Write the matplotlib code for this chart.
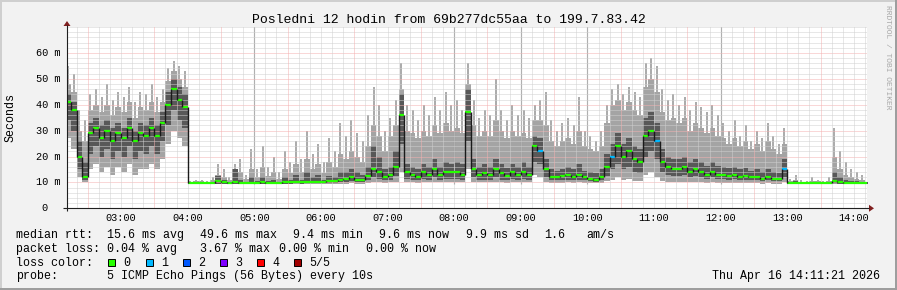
import numpy as np
import matplotlib
matplotlib.use("Agg")
import matplotlib.pyplot as plt
from matplotlib.patches import Rectangle, Polygon

W, H = 897, 290
MONO = "Liberation Mono"


def hh(s):
    h, m = s.split(":")
    return int(h) + int(m) / 60.0


# ── data: 5-minute bins starting 02:10, one row per clock hour (ms) ──────────
# highest single ping in the bin (thin spike)
peak = [
    55, 52, 38, 34, 44, 46, 43, 48, 42, 45,                       # 02
    43, 47, 41, 45, 44, 48, 43, 46, 54, 57, 55, 53,               # 03
    10.5, 11, 11, 10.5, 12, 17, 15, 12, 17, 19, 13, 23,           # 04
    15, 24, 16, 20, 14, 22, 18, 26, 19, 30, 21, 25,               # 05
    18, 27, 22, 33, 28, 34, 29, 26, 36, 47, 40, 30,               # 06
    35, 42, 56, 40, 38, 34, 40, 36, 43, 38, 45, 40,               # 07
    42, 38, 56, 42, 35, 38, 36, 50, 38, 34, 40, 36,               # 08
    38, 35, 40, 42, 45, 34, 30, 33, 35, 32, 43, 30,               # 09
    28, 26, 30, 40, 46, 48, 44, 47, 45, 43, 56, 58,               # 10
    55, 46, 42, 44, 40, 43, 38, 41, 39, 37, 40, 36,               # 11
    33, 30, 34, 28, 32, 26, 30, 27, 33, 28, 25, 31,               # 12
    11.5, 13, 11, 10.5, 12, 11, 10.5, 12, 31, 22, 18, 15,         # 13
    14, 13, 11,                                                   # 14
]
# typical top of the light smoke (max ping)
hi = [
    48, 45, 30, 26, 38, 40, 37, 40, 36, 39,
    37, 41, 35, 39, 38, 41, 37, 41, 49, 53, 50, 47,
    10.3, 10.5, 10.5, 10.3, 11, 13, 12, 11, 13, 14, 11.5, 15,
    12, 16, 12.5, 14, 11.5, 15, 13.5, 17, 14, 19, 15, 17,
    13.5, 18, 16, 21, 19, 22, 20, 18, 24, 32, 28, 22,
    28, 32, 46, 30, 29, 27, 30, 28, 32, 29, 33, 30,
    31, 29, 48, 32, 28, 30, 28, 34, 30, 27, 30, 28,
    29, 27, 34, 34, 32, 26, 24, 26, 27, 25, 30, 24,
    23, 22, 24, 33, 40, 42, 38, 41, 38, 36, 47, 50,
    45, 37, 34, 35, 33, 35, 30, 33, 31, 29, 31, 28,
    27, 25, 27, 24, 26, 23, 25, 22, 26, 23, 21, 25,
    10.5, 11, 10.3, 10.2, 10.7, 10.4, 10.2, 10.6, 20, 15, 13, 12,
    11.5, 11, 10.3,
]
# 4th of 5 pings (top of dark smoke)
hi2 = [
    44, 41, 26, 18, 33, 35, 32, 34, 31, 33,
    31, 35, 30, 33, 32, 35, 32, 37, 45, 50, 47, 44,
    9.9, 10, 10, 9.9, 10.3, 12.5, 11, 10.3, 15, 11, 10.2, 12,
    10.5, 12, 10.5, 11, 10.3, 12, 11, 13, 11, 14, 12, 13,
    11, 12.5, 12, 14, 14, 15, 14, 13, 16, 24, 20, 15,
    16, 22, 44, 17, 16, 15, 17, 16, 19, 16, 18, 17,
    18, 17, 46, 19, 16, 17, 16, 19, 17, 15.5, 17, 16,
    18, 16, 28, 27, 19, 15, 14.5, 15, 16, 15, 17, 14.5,
    14, 13.5, 15, 21, 25, 29, 25, 27, 24, 23, 35, 37,
    33, 23, 20, 19, 19, 20, 18, 19, 18, 16.5, 18, 16.5,
    16, 15.5, 16, 15, 15.5, 14.5, 15, 14, 15, 14, 13.5, 19,
    10.2, 10.5, 10, 9.9, 10.3, 10, 9.9, 10.3, 14, 12, 11, 10.5,
    10.5, 10.3, 10,
]
med = [
    41, 38, 20, 12, 29, 31, 27, 30, 26, 29,
    27, 31, 26, 29, 28, 31, 28, 33, 40, 46, 42, 39,
    9.6, 9.6, 9.6, 9.6, 9.7, 10.5, 10, 9.7, 10.2, 9.8, 9.6, 9.8,
    9.8, 10, 9.8, 9.9, 9.7, 10, 10, 10.2, 10, 10.3, 10.2, 10.3,
    10.2, 10.5, 10.4, 11, 11.5, 12, 11, 10.8, 12.5, 15, 14, 12,
    13, 16, 36, 14, 13, 12, 14, 13, 15, 13, 14, 14,
    14, 13, 37, 15, 13, 13.5, 13, 15, 13.5, 12.5, 14, 13,
    14, 13, 24, 22, 15, 12, 12, 12.5, 13, 12, 13, 12,
    11.5, 11, 12, 16, 20, 24, 20, 22, 19, 18, 28, 30,
    26, 18, 16, 15, 15, 16, 14, 15, 14, 13, 14, 13,
    13, 12.5, 13, 12, 12.5, 12, 12, 11.5, 12, 11.5, 11.5, 15,
    9.7, 9.7, 9.6, 9.6, 9.6, 9.6, 9.6, 9.7, 10.5, 10, 9.8, 9.7,
    9.7, 9.6, 9.6,
]
# 2nd of 5 pings (bottom of dark smoke)
lo2 = [
    34, 30, 15, 11, 21, 24, 20, 23, 19, 22,
    20, 24, 19, 22, 21, 24, 21, 26, 32, 38, 34, 31,
    9.4, 9.4, 9.4, 9.4, 9.4, 9.5, 9.5, 9.4, 9.5, 9.4, 9.4, 9.4,
    9.4, 9.5, 9.4, 9.5, 9.4, 9.5, 9.5, 9.6, 9.5, 9.6, 9.6, 9.6,
    9.6, 9.8, 9.8, 10, 10.2, 10.5, 10, 10, 10.8, 12, 11.5, 10.8,
    11, 12.5, 25, 11.5, 11, 10.8, 11.5, 11, 12, 11, 11.5, 11.5,
    11.5, 11, 26, 12, 11, 11, 11, 12, 11, 10.8, 11.5, 11,
    11.5, 11, 18, 17, 12, 10.8, 10.8, 11, 11, 10.8, 11, 10.8,
    10.5, 10.3, 10.8, 12.5, 15, 17, 15, 16, 14, 13.5, 20, 22,
    19, 14, 13, 12.5, 12.5, 13, 12, 12.5, 12, 11.5, 12, 11.5,
    11.5, 11, 11.5, 11, 11, 10.8, 10.8, 10.5, 10.8, 10.5, 10.5, 12,
    9.4, 9.4, 9.4, 9.4, 9.4, 9.4, 9.4, 9.5, 9.6, 9.5, 9.5, 9.4,
    9.4, 9.4, 9.4,
]
# fastest ping (bottom of light smoke)
lo = [
    27, 23, 12, 10, 15, 17, 14, 16, 13, 16,
    14, 17, 13, 15, 15, 17, 15, 19, 25, 30, 27, 24,
    9.2, 9.2, 9.2, 9.2, 9.2, 9.2, 9.2, 9.2, 9.2, 9.2, 9.2, 9.2,
    9.2, 9.2, 9.2, 9.2, 9.2, 9.2, 9.2, 9.2, 9.2, 9.2, 9.2, 9.2,
    9.3, 9.3, 9.3, 9.4, 9.5, 9.6, 9.5, 9.5, 9.7, 10, 10, 9.8,
    10, 10.2, 14, 10, 10, 9.8, 10, 10, 10.2, 10, 10, 10,
    10, 10, 15, 10, 10, 10, 10, 10.2, 10, 9.8, 10, 10,
    10, 10, 13, 12, 10, 9.8, 9.8, 9.8, 10, 9.8, 10, 9.8,
    9.7, 9.6, 9.8, 10.5, 11, 12, 11, 11.5, 10.5, 10.5, 13, 14,
    12, 10.5, 10.2, 10, 10, 10.2, 10, 10, 10, 9.8, 10, 9.8,
    9.8, 9.8, 9.8, 9.7, 9.7, 9.6, 9.6, 9.5, 9.6, 9.5, 9.5, 10,
    9.2, 9.2, 9.2, 9.2, 9.2, 9.2, 9.2, 9.2, 9.2, 9.2, 9.2, 9.2,
    9.2, 9.2, 9.2,
]
first_bin = "02:10"
bin_minutes = 5

# bins where one of five pings was lost
loss1_bins = ["09:15", "10:20", "11:00", "12:55"]

# single-sample spikes off the top of the scale
spike_times = ["05:00", "08:00", "09:00", "10:00", "12:00"]
spike_top = [75, 75, 75, 75, 75]

x_labels = ["03:00", "04:00", "05:00", "06:00", "07:00", "08:00",
            "09:00", "10:00", "11:00", "12:00", "13:00", "14:00"]
y_values = [0, 10, 20, 30, 40, 50, 60]
y_labels = ["0", "10 m", "20 m", "30 m", "40 m", "50 m", "60 m"]

title = "Posledni 12 hodin from 69b277dc55aa to 199.7.83.42"
row_rtt = [("median rtt:", 16), ("15.6 ms avg", 107), ("49.6 ms max", 199.5),
           ("9.4 ms min", 293), ("9.6 ms now", 379), ("9.9 ms sd", 465.5),
           ("1.6", 544), ("am/s", 586.5)]
row_loss = [("packet loss:", 16), ("0.04 % avg", 107), ("3.67 % max", 199.5),
            ("0.00 % min", 279), ("0.00 % now", 365.5)]
loss_names = ["0", "1", "2", "3", "4", "5/5"]
loss_colors = ["#26ff00", "#00b8ff", "#0059ff", "#7e00ff", "#ff0000", "#a10000"]
probe_text = "5 ICMP Echo Pings (56 Bytes) every 10s"
stamp = "Thu Apr 16 14:11:21 2026"

# ── layout (pixels of the 897x290 canvas) ───────────────────────────────────
PL, PR, PT, PB = 67, 866.5, 27, 208.3
t_lo, t_hi = 2 + 11 / 60 + 21 / 3600, 14 + 11 / 60 + 21 / 3600

fig = plt.figure(figsize=(W / 100, H / 100), dpi=100)
fig.patch.set_facecolor("#f2f2f2")
ax = fig.add_axes([PL / W, (H - PB) / H, (PR - PL) / W, (PB - PT) / H])
ax.set_facecolor("white")
ax.set_xlim(t_lo, t_hi)
ax.set_ylim(0, 70)
ax.set_xticks([])
ax.set_yticks([])
for s in ax.spines.values():
    s.set_visible(False)

n = len(med)
edges = hh(first_bin) + np.arange(n + 1) * bin_minutes / 60.0
mids = (edges[:-1] + edges[1:]) / 2


def ext(a):
    return list(a) + [a[-1]]


LIGHT, DARK = "#a4a4a4", "#585858"

# smoke: min..max light, 2nd..4th ping dark
ax.fill_between(edges, ext(lo), ext(hi), step="post", color=LIGHT, lw=0, zorder=1)
ax.vlines(mids, hi, peak, color=LIGHT, lw=1.3, zorder=1)
ax.fill_between(edges, ext(lo2), ext(hi2), step="post", color=DARK, lw=0, zorder=2)
for t, top in zip(spike_times, spike_top):
    ax.vlines(hh(t), 9.5, top, color="#909090", lw=0.8, zorder=2)

# grid (over the smoke, like rrdtool)
MINOR, MAJOR = "#d0d0d0", "#f4b0b0"
for v in range(2, 71, 2):
    major = v % 10 == 0 and v <= 60
    ax.axhline(v, color=MAJOR if major else MINOR, lw=0.72, ls=(0, (1, 1)), zorder=3)
for m in range(140, 14 * 60 + 11, 10):
    major = m % 60 == 30
    ax.axvline(m / 60.0, color=MAJOR if major else MINOR, lw=0.72, ls=(0, (1, 1)), zorder=3)

# median: loss-coloured bars joined by dark vertical strokes
lossset = {round(hh(s), 4) for s in loss1_bins}
cols = [loss_colors[1] if round(e, 4) in lossset else loss_colors[0] for e in edges[:-1]]
ax.hlines(med, edges[:-1], edges[1:], colors=cols, lw=1.6, zorder=4)
ax.vlines(edges[1:-1], med[:-1], med[1:], color="#1a1a1a", lw=1.0, zorder=5)

# tick labels
for lab in x_labels:
    ax.text(hh(lab), -(220.7 - PB) / (PB - PT), lab, transform=ax.get_xaxis_transform(),
            ha="center", va="baseline", fontsize=7.35, family=MONO, clip_on=False)
for v, lab in zip(y_values, y_labels):
    off = -6 if v else -19
    ax.text(off / (PR - PL), v, lab, transform=ax.get_yaxis_transform(),
            ha="right", va="center", fontsize=7.35, family=MONO, clip_on=False)

# ── overlay in pixel coordinates: frame, axes, arrows, texts ────────────────
ov = fig.add_axes([0, 0, 1, 1])
ov.set_xlim(0, W)
ov.set_ylim(H, 0)
ov.axis("off")
ov.add_patch(Rectangle((0, 0), W, 2, color="#cfcfcf", lw=0))
ov.add_patch(Rectangle((0, 0), 2, H, color="#cfcfcf", lw=0))
ov.add_patch(Rectangle((0, H - 2), W, 2, color="#9e9e9e", lw=0))
ov.add_patch(Rectangle((W - 2, 0), 2, H, color="#9e9e9e", lw=0))

ov.plot([63, 869], [PB, PB], color="#1f1f1f", lw=0.8, solid_capstyle="butt")
ov.plot([PL, PL], [PB + 3, 25], color="#1f1f1f", lw=0.8, solid_capstyle="butt")
ov.add_patch(Polygon([[PL - 3.5, 26], [PL + 3.5, 26], [PL, 21]], closed=True, color="#801f1f", lw=0))
ov.add_patch(Polygon([[869, PB - 3.5], [869, PB + 3.5], [874, PB]], closed=True, color="#801f1f", lw=0))

ov.text(W / 2, 23, title, ha="center", va="baseline", fontsize=9.45, family=MONO)
ov.text(10.5, (PT + PB) / 2, "Seconds", rotation=90, ha="center", va="center",
        fontsize=8.4, family=MONO)
ov.text(887.5, 5, "RRDTOOL / TOBI OETIKER", rotation=270, ha="center", va="top",
        fontsize=5.8, family=MONO, color="#a8a8a8")

for txt, x in row_rtt:
    ov.text(x, 237.7, txt, ha="left", va="baseline", fontsize=8.4, family=MONO)
for txt, x in row_loss:
    ov.text(x, 251.7, txt, ha="left", va="baseline", fontsize=8.4, family=MONO)
ov.text(16, 265.7, "loss color:", ha="left", va="baseline", fontsize=8.4, family=MONO)
box_x = [108, 146, 183, 220, 257, 294]
for bx, name, c in zip(box_x, loss_names, loss_colors):
    ov.add_patch(Rectangle((bx, 258.5), 7, 7, facecolor=c, edgecolor="black", lw=0.7))
    ov.text(bx + 15, 265.7, name, ha="left", va="baseline", fontsize=8.4, family=MONO)
ov.text(16, 279.5, "probe:", ha="left", va="baseline", fontsize=8.4, family=MONO)
ov.text(107, 279.5, probe_text, ha="left", va="baseline", fontsize=8.4, family=MONO)
ov.text(880, 279.5, stamp, ha="right", va="baseline", fontsize=8.4, family=MONO)

fig.savefig("out.png", dpi=100, facecolor=fig.get_facecolor())
